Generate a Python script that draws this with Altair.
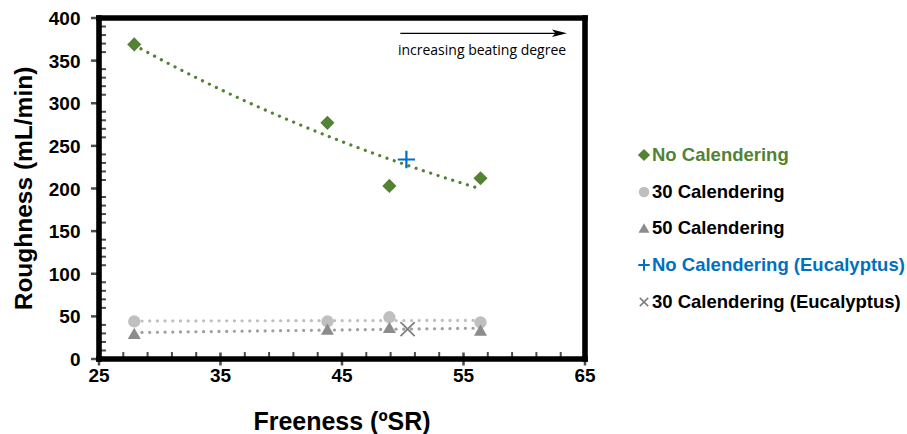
import altair as alt
import pandas as pd

# ---- data ----
freeness = [27.9, 43.8, 48.9, 56.4]
no_cal = [369, 277, 203, 212]
cal30 = [44, 44, 49, 43]
cal50 = [30, 35, 37, 34]
euc_no_cal_x = [50.3]
euc_no_cal_y = [234]
euc_30_x = [50.4]
euc_30_y = [35]

x_major = [25, 35, 45, 55, 65]
y_major = [0, 50, 100, 150, 200, 250, 300, 350, 400]
x_minor = [27, 29, 31, 33, 37, 39, 41, 43, 47, 49, 51, 53, 57, 59, 61, 63]
y_minor = [10, 20, 30, 40, 60, 70, 80, 90, 110, 120, 130, 140, 160, 170, 180, 190,
           210, 220, 230, 240, 260, 270, 280, 290, 310, 320, 330, 340, 360, 370, 380, 390]

x_title = "Freeness (ºSR)"
y_title = "Roughness (mL/min)"
legend_names = ["No Calendering", "30 Calendering", "50 Calendering",
                "No Calendering (Eucalyptus)", "30 Calendering (Eucalyptus)"]

GREEN = "#548235"
BLUE = "#0070C0"
LGRAY = "#BFBFBF"
DGRAY = "#8C8C8C"
XGRAY = "#7F7F7F"
FONT = "Liberation Sans"

PLUS = "M-1,0L1,0M0,-1L0,1"
XSHAPE = "M-1,-1L1,1M1,-1L-1,1"
ARROW = "M-1,-0.5L1,0L-1,0.5L-0.55,0Z"

W, H = 486, 341

main = pd.DataFrame({"x": freeness, "no": no_cal, "c30": cal30, "c50": cal50})
euc1 = pd.DataFrame({"x": euc_no_cal_x, "y": euc_no_cal_y})
euc2 = pd.DataFrame({"x": euc_30_x, "y": euc_30_y})

xs = alt.Scale(domain=[25, 65], nice=False, zero=False)
ys = alt.Scale(domain=[0, 400], nice=False)

dot = dict(strokeDash=[0.1, 7.6], strokeCap="round", strokeWidth=3.2)

base = alt.Chart(main)


def X(field="x"):
    return alt.X(f"{field}:Q", scale=xs, axis=None)


def Y(field):
    return alt.Y(f"{field}:Q", scale=ys, axis=None)


# tick labels and axis titles as text marks (from the tick lists)
xl = pd.DataFrame({"v": x_major, "t": [str(v) for v in x_major]})
yl = pd.DataFrame({"v": y_major, "t": [str(v) for v in y_major]})
x_labels = alt.Chart(xl).mark_text(font=FONT, fontSize=19, fontWeight="bold", color="black",
                                   align="center", baseline="alphabetic").encode(
    x=X("v"), y=alt.value(H + 23), text="t:N")
y_labels = alt.Chart(yl).mark_text(font=FONT, fontSize=19, fontWeight="bold", color="black",
                                   align="right", baseline="alphabetic", dy=7).encode(
    y=Y("v"), x=alt.value(-18.5), text="t:N")
titles = pd.DataFrame({"xt": [x_title], "yt": [y_title]})
x_title_mark = alt.Chart(titles).mark_text(font=FONT, fontSize=25, fontWeight="bold",
                                           color="black", align="center",
                                           baseline="alphabetic").encode(
    x=alt.value(W / 2), y=alt.value(H + 71), text="xt:N")
y_title_mark = alt.Chart(titles).mark_text(font=FONT, fontSize=24.5, fontWeight="bold",
                                           color="black", align="center",
                                           baseline="alphabetic", angle=270).encode(
    x=alt.value(-67), y=alt.value(H / 2), text="yt:N")

# ticks drawn from the tick lists
x_minor_ticks = alt.Chart(pd.DataFrame({"v": x_minor})).mark_tick(
    color="black", thickness=2, size=6, orient="vertical").encode(x=X("v"), y=alt.value(H - 4))
x_major_ticks = alt.Chart(pd.DataFrame({"v": x_major})).mark_tick(
    color="black", thickness=2.5, size=13, orient="vertical").encode(x=X("v"), y=alt.value(H))
y_minor_ticks = alt.Chart(pd.DataFrame({"v": y_minor})).mark_tick(
    color="black", thickness=2, size=6, orient="horizontal").encode(y=Y("v"), x=alt.value(4))
y_major_ticks = alt.Chart(pd.DataFrame({"v": y_major})).mark_tick(
    color="black", thickness=2.5, size=8, orient="horizontal").encode(y=Y("v"), x=alt.value(-4))

# frame as four filled bars
one = pd.DataFrame({"a": [0]})
fh = 2.8
frame = [
    alt.Chart(one).mark_rect(color="black", opacity=1).encode(
        x=alt.value(-fh), x2=alt.value(W + fh), y=alt.value(-fh), y2=alt.value(fh)),
    alt.Chart(one).mark_rect(color="black", opacity=1).encode(
        x=alt.value(-fh), x2=alt.value(W + fh), y=alt.value(H - fh), y2=alt.value(H + fh)),
    alt.Chart(one).mark_rect(color="black", opacity=1).encode(
        x=alt.value(-fh), x2=alt.value(fh), y=alt.value(-fh), y2=alt.value(H + fh)),
    alt.Chart(one).mark_rect(color="black", opacity=1).encode(
        x=alt.value(W - fh), x2=alt.value(W + fh), y=alt.value(-fh), y2=alt.value(H + fh)),
]

# trendlines
tr_green = base.transform_regression("x", "no", method="exp").mark_line(color=GREEN, **dot).encode(
    x=X(), y=Y("no"))
tr_c30 = base.transform_regression("x", "c30", method="linear").mark_line(color=LGRAY, **dot).encode(
    x=X(), y=Y("c30"))
tr_c50 = base.transform_regression("x", "c50", method="linear").mark_line(color="#A0A0A0", **dot).encode(
    x=X(), y=Y("c50"))

# points
p_no = base.mark_point(shape="diamond", filled=True, size=200, color=GREEN, opacity=1).encode(
    x=X(), y=Y("no"))
p_c30 = base.mark_point(shape="circle", filled=True, size=150, color=LGRAY, opacity=1).encode(
    x=X(), y=Y("c30"))
p_c50 = base.mark_point(shape="triangle-up", filled=True, size=170, color=DGRAY, opacity=1).encode(
    x=X(), y=Y("c50"))
p_e1 = alt.Chart(euc1).mark_point(shape=PLUS, filled=False, size=300, color=BLUE,
                                  strokeWidth=2.2, opacity=1).encode(x=X(), y=Y("y"))
p_e2 = alt.Chart(euc2).mark_point(shape=XSHAPE, filled=False, size=200, color=XGRAY,
                                  strokeWidth=1.8, opacity=1).encode(x=X(), y=Y("y"))

# annotation (arrow + text), data units
arrow_x = [49.8, 62.6]
arrow_y = [382]
arrow_head_x = [62.9]
ann_text_x = [63.45]
ann_text_y = [361]
arr = pd.DataFrame({"x": [arrow_x[0]], "x2": [arrow_x[1]], "y": arrow_y})
a_line = alt.Chart(arr).mark_rule(color="black", strokeWidth=1.3).encode(
    x=X(), x2="x2:Q", y=Y("y"))
a_head = alt.Chart(pd.DataFrame({"x": arrow_head_x, "y": arrow_y})).mark_point(
    shape=ARROW, filled=True, size=225, color="black", opacity=1).encode(x=X(), y=Y("y"))
a_text = alt.Chart(pd.DataFrame({"x": ann_text_x, "y": ann_text_y,
                                 "t": ["increasing beating degree"]})).mark_text(
    align="right", baseline="middle", font="Open Sans", fontSize=14, color="black").encode(
    x=X(), y=Y("y"), text="t:N")

# custom legend (pixel positions relative to plot origin)
leg_rows_y = [137, 174, 210, 247, 284]
leg_sym_x = 545
leg_txt_x = 553
leg_specs = [
    ("diamond", True, 150, GREEN, GREEN, 1),
    ("circle", True, 110, LGRAY, "black", 1),
    ("triangle-up", True, 120, DGRAY, "black", 1),
    (PLUS, False, 130, BLUE, BLUE, 2),
    (XSHAPE, False, 70, XGRAY, "black", 1.6),
]
leg_df = pd.DataFrame({"name": legend_names})
legend_layers = []
for i, (shape, filled, size, scol, tcol, sw) in enumerate(leg_specs):
    d = leg_df.iloc[[i]]
    legend_layers.append(alt.Chart(d).mark_point(shape=shape, filled=filled, size=size,
                                                  color=scol, strokeWidth=sw, opacity=1).encode(
        x=alt.value(leg_sym_x), y=alt.value(leg_rows_y[i])))
    legend_layers.append(alt.Chart(d).mark_text(align="left", baseline="middle", font=FONT,
                                                fontSize=18.5, fontWeight="bold", color=tcol).encode(
        x=alt.value(leg_txt_x), y=alt.value(leg_rows_y[i]), text="name:N"))

chart = alt.layer(
    tr_c30, tr_c50, tr_green,
    p_c30, p_c50, p_no, p_e1, p_e2, a_line, a_head, a_text,
    x_minor_ticks, x_major_ticks, y_minor_ticks, y_major_ticks, *frame,
    x_labels, y_labels, x_title_mark, y_title_mark, *legend_layers
).properties(
    width=W, height=H,
    autosize=alt.AutoSizeParams(type="none"),
    padding={"left": 99, "top": 18, "right": 907 - 99 - W, "bottom": 434 - 18 - H},
    background="white",
).configure_view(strokeWidth=0)

chart.save("out.html", embed_options={"renderer": "svg", "actions": False})
